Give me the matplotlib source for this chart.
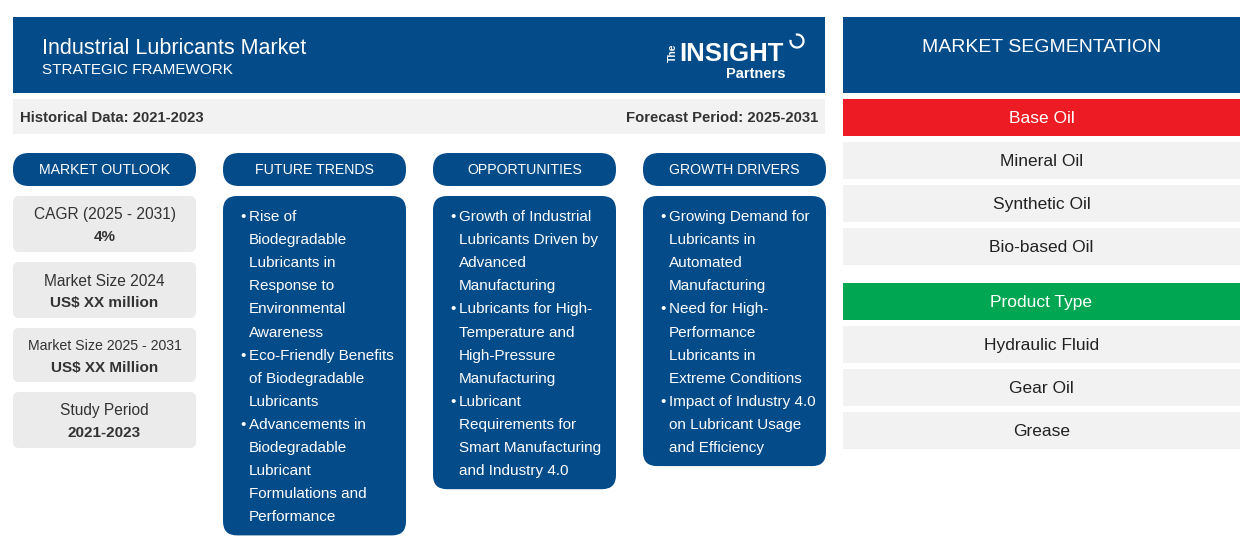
import matplotlib.pyplot as plt
from matplotlib.patches import FancyBboxPatch, Rectangle, Arc

plt.rcParams['font.family'] = ['Liberation Sans', 'DejaVu Sans']

BLUE = '#034b89'
GREY = '#ebebeb'
LIGHT = '#f2f2f2'
DARK = '#333333'

title = "Industrial Lubricants Market"
subtitle = "STRATEGIC FRAMEWORK"
historical = "Historical Data: 2021-2023"
forecast = "Forecast Period: 2025-2031"

column_heads = ["MARKET OUTLOOK", "FUTURE TRENDS", "OPPORTUNITIES", "GROWTH DRIVERS"]

outlook_labels = ["CAGR (2025 - 2031)", "Market Size 2024", "Market Size 2025 - 2031", "Study Period"]
outlook_values = ["4%", "US$ XX million", "US$ XX Million", "2021-2023"]

future_trends = [
    ["Rise of", "Biodegradable", "Lubricants in", "Response to", "Environmental", "Awareness"],
    ["Eco-Friendly Benefits", "of Biodegradable", "Lubricants"],
    ["Advancements in", "Biodegradable", "Lubricant", "Formulations and", "Performance"],
]
opportunities = [
    ["Growth of Industrial", "Lubricants Driven by", "Advanced", "Manufacturing"],
    ["Lubricants for High-", "Temperature and", "High-Pressure", "Manufacturing"],
    ["Lubricant", "Requirements for", "Smart Manufacturing", "and Industry 4.0"],
]
growth_drivers = [
    ["Growing Demand for", "Lubricants in", "Automated", "Manufacturing"],
    ["Need for High-", "Performance", "Lubricants in", "Extreme Conditions"],
    ["Impact of Industry 4.0", "on Lubricant Usage", "and Efficiency"],
]

seg_title = "MARKET SEGMENTATION"
segments = [
    ("Base Oil", '#ed1c24', ["Mineral Oil", "Synthetic Oil", "Bio-based Oil"]),
    ("Product Type", '#00a651', ["Hydraulic Fluid", "Gear Oil", "Grease"]),
]

fig = plt.figure(figsize=(12.54, 5.54), dpi=100)
ax = fig.add_axes([0, 0, 1, 1])
ax.set_xlim(0, 1254)
ax.set_ylim(554, 0)
ax.axis('off')


def rbox(x, y, w, h, color, r):
    ax.add_patch(FancyBboxPatch((x, y), w, h, boxstyle=f"round,pad=0,rounding_size={r}",
                                fc=color, ec='none'))


# header
ax.add_patch(Rectangle((13, 17), 812, 76, fc=BLUE, ec='none'))
ax.text(42, 49, title, color='white', fontsize=15.5, va='center')
ax.text(42, 70, subtitle, color='white', fontsize=11, va='center')

# logo
ax.text(673, 53, "The", color='white', fontsize=7.5, rotation=90, va='center', ha='center',
        fontweight='bold')
ax.text(679, 54, "INSIGHT", color='white', fontsize=18.5, va='center', fontweight='bold')
ax.text(726, 74, "Partners", color='white', fontsize=10.5, va='center', fontweight='bold')
ax.add_patch(Arc((797, 41), 13, 13, theta1=-100, theta2=190, color='white', lw=1.6))

# info bar
ax.add_patch(Rectangle((13, 99), 812, 35, fc=LIGHT, ec='none'))
ax.text(20, 118, historical, color=DARK, fontsize=10.7, fontweight='bold', va='center')
ax.text(818, 118, forecast, color=DARK, fontsize=10.7, fontweight='bold', va='center', ha='right')

# column heads
col_x = [13, 223, 433, 643]
col_w = 183
for cx, head in zip(col_x, column_heads):
    rbox(cx, 153, col_w, 33, BLUE, 16)
    ax.text(cx + col_w / 2, 170.5, head, color='white', fontsize=10.2, ha='center', va='center')

# market outlook boxes
box_y = [196, 262, 328, 392]
box_h = [56, 56, 54, 56]
for by, bh, lab, val in zip(box_y, box_h, outlook_labels, outlook_values):
    rbox(13, by, col_w, bh, GREY, 6)
    fs = 10.2 if len(lab) > 20 else 11.2
    ax.text(104.5, by + bh / 2 - 9, lab, color=DARK, fontsize=fs, ha='center', va='center')
    ax.text(104.5, by + bh / 2 + 13, val, color=DARK, fontsize=11, ha='center', va='center',
            fontweight='bold')

# bullet boxes
line_h = 23.1
for cx, items in zip(col_x[1:], [future_trends, opportunities, growth_drivers]):
    n = sum(len(it) for it in items)
    h = n * line_h + 16
    rbox(cx, 196, col_w, h, BLUE, 14)
    y = 217
    for it in items:
        ax.text(cx + 20, y, "•", color='white', fontsize=11, ha='center', va='center')
        for line in it:
            ax.text(cx + 26, y, line, color='white', fontsize=11, va='center')
            y += line_h

# segmentation
ax.add_patch(Rectangle((843, 17), 397, 76, fc=BLUE, ec='none'))
ax.text(1041.5, 47, seg_title, color='white', fontsize=14, ha='center', va='center')
sy = 99
for name, color, subs in segments:
    ax.add_patch(Rectangle((843, sy), 397, 37, fc=color, ec='none'))
    ax.text(1041.5, sy + 19.5, name, color='white', fontsize=12.5, ha='center', va='center')
    sy += 43
    for s in subs:
        ax.add_patch(Rectangle((843, sy), 397, 37, fc=LIGHT, ec='none'))
        ax.text(1041.5, sy + 19.5, s, color='#222222', fontsize=12.5, ha='center', va='center')
        sy += 43
    sy += 12

fig.savefig('out.png', dpi=100)
